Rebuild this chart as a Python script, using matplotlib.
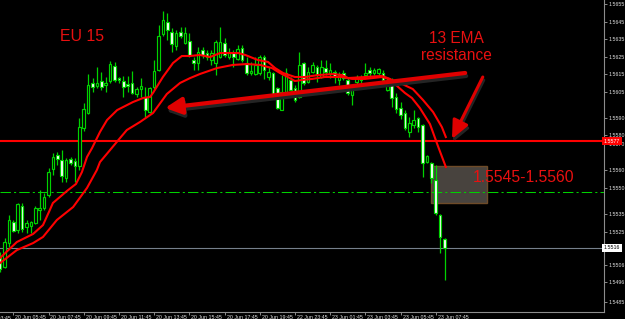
import matplotlib
matplotlib.use("Agg")
import matplotlib.pyplot as plt
from matplotlib.patches import Rectangle
import matplotlib.transforms as mtransforms

# ---------------- data (EURUSD M15) ----------------
bar_index = list(range(-3, 99))
opens = [1.55110, 1.55047, 1.55184, 1.55304, 1.55259, 1.55396, 1.55276, 1.55282, 1.55299, 1.55373,
         1.55384, 1.55459, 1.55607, 1.55687, 1.55659, 1.55556, 1.55664, 1.55653, 1.55624, 1.55842,
         1.55927, 1.56099, 1.56082, 1.56110, 1.56087, 1.56110, 1.56196, 1.56127, 1.56110, 1.56093,
         1.56099, 1.56036, 1.56064, 1.56019, 1.55933, 1.56076, 1.56173, 1.56379, 1.56447, 1.56390,
         1.56310, 1.56390, 1.56327, 1.56339, 1.56230, 1.56213, 1.56287, 1.56270, 1.56230, 1.56213,
         1.56247, 1.56327, 1.56247, 1.56270, 1.56236, 1.56299, 1.56213, 1.56156, 1.56150, 1.56156,
         1.56247, 1.56133, 1.56156, 1.56070, 1.55944, 1.56047, 1.56116, 1.56070, 1.56019, 1.56213,
         1.56104, 1.56162, 1.56190, 1.56133, 1.56184, 1.56150, 1.56162, 1.56116, 1.56156, 1.56116,
         1.56030, 1.56104, 1.56133, 1.56144, 1.56173, 1.56156, 1.56156, 1.56156, 1.56059, 1.56087,
         1.56019, 1.55956, 1.55927, 1.55819, 1.55859, 1.55899, 1.55859, 1.55647, 1.55642, 1.55544,
         1.55344, 1.55207]
highs = [1.55133, 1.55213, 1.55344, 1.55316, 1.55413, 1.55413, 1.55316, 1.55310, 1.55396, 1.55487,
         1.55470, 1.55613, 1.55699, 1.55704, 1.55716, 1.55670, 1.55676, 1.55670, 1.55899, 1.55984,
         1.56150, 1.56127, 1.56190, 1.56162, 1.56133, 1.56224, 1.56219, 1.56133, 1.56139, 1.56139,
         1.56167, 1.56076, 1.56127, 1.56076, 1.56076, 1.56230, 1.56430, 1.56510, 1.56499, 1.56413,
         1.56402, 1.56419, 1.56419, 1.56384, 1.56247, 1.56304, 1.56304, 1.56287, 1.56287, 1.56344,
         1.56419, 1.56356, 1.56299, 1.56287, 1.56316, 1.56316, 1.56247, 1.56219, 1.56247, 1.56259,
         1.56259, 1.56190, 1.56162, 1.56076, 1.56144, 1.56184, 1.56133, 1.56087, 1.56276, 1.56219,
         1.56190, 1.56219, 1.56202, 1.56230, 1.56230, 1.56213, 1.56173, 1.56162, 1.56173, 1.56127,
         1.56087, 1.56144, 1.56144, 1.56213, 1.56190, 1.56184, 1.56184, 1.56173, 1.56133, 1.56127,
         1.56042, 1.55990, 1.55944, 1.55904, 1.55944, 1.55904, 1.55864, 1.55687, 1.55647, 1.55630,
         1.55350, 1.55213]
lows = [1.55019, 1.55042, 1.55162, 1.55247, 1.55242, 1.55247, 1.55242, 1.55242, 1.55293, 1.55316,
        1.55373, 1.55447, 1.55573, 1.55630, 1.55533, 1.55533, 1.55630, 1.55533, 1.55602, 1.55824,
        1.55922, 1.56047, 1.56070, 1.56059, 1.56047, 1.56099, 1.56104, 1.56099, 1.56019, 1.56047,
        1.56036, 1.56019, 1.56019, 1.55904, 1.55927, 1.56064, 1.56167, 1.56367, 1.56344, 1.56276,
        1.56287, 1.56356, 1.56322, 1.56247, 1.56173, 1.56173, 1.56242, 1.56230, 1.56202, 1.56144,
        1.56242, 1.56247, 1.56236, 1.56190, 1.56230, 1.56219, 1.56144, 1.56144, 1.56144, 1.56144,
        1.56122, 1.56116, 1.56013, 1.55950, 1.55944, 1.56042, 1.56047, 1.55990, 1.56013, 1.56087,
        1.56099, 1.56156, 1.56104, 1.56127, 1.56144, 1.56127, 1.56099, 1.56087, 1.56116, 1.56030,
        1.55973, 1.56076, 1.56099, 1.56127, 1.56127, 1.56144, 1.56144, 1.56087, 1.56053, 1.55962,
        1.55927, 1.55893, 1.55830, 1.55790, 1.55842, 1.55819, 1.55562, 1.55642, 1.55527, 1.55344,
        1.55127, 1.54973]
closes = [1.55036, 1.55190, 1.55316, 1.55253, 1.55407, 1.55264, 1.55299, 1.55304, 1.55384, 1.55384,
          1.55447, 1.55590, 1.55676, 1.55664, 1.55567, 1.55659, 1.55642, 1.55624, 1.55847, 1.55950,
          1.56087, 1.56076, 1.56099, 1.56076, 1.56099, 1.56207, 1.56116, 1.56116, 1.56076, 1.56082,
          1.56042, 1.56064, 1.56082, 1.55944, 1.56070, 1.56167, 1.56367, 1.56459, 1.56402, 1.56322,
          1.56384, 1.56367, 1.56384, 1.56259, 1.56213, 1.56276, 1.56259, 1.56247, 1.56270, 1.56333,
          1.56333, 1.56259, 1.56276, 1.56247, 1.56293, 1.56230, 1.56156, 1.56167, 1.56202, 1.56247,
          1.56173, 1.56162, 1.56019, 1.55956, 1.56047, 1.56156, 1.56059, 1.56002, 1.56202, 1.56099,
          1.56162, 1.56202, 1.56144, 1.56190, 1.56162, 1.56173, 1.56133, 1.56144, 1.56127, 1.56042,
          1.56076, 1.56133, 1.56116, 1.56156, 1.56156, 1.56173, 1.56179, 1.56116, 1.56087, 1.56013,
          1.55950, 1.55916, 1.55842, 1.55870, 1.55887, 1.55847, 1.55642, 1.55682, 1.55556, 1.55356,
          1.55219, 1.55156]

ema_fast_x = [-3, 0.8, 4.5, 6.75, 8.3, 9, 12.2, 14.25, 15.6, 16.75, 17.9, 19.7, 21.3, 23.6, 27.2,
              29.5, 31.1, 31.75, 34, 36.3, 38.3, 40.2, 42.4, 44.7, 47, 49.25, 51.1, 52.7, 55.6, 57.9,
              59.5, 61.3, 64, 66.3, 69.25, 72.7, 74.7, 76.1, 79.9, 83.8, 85.6, 87.2, 89, 90.6, 92.4,
              94.7, 96.5, 98.3]
ema_fast = [1.55099, 1.55190, 1.55236, 1.55287, 1.55373, 1.55413, 1.55482, 1.55522, 1.55590, 1.55676,
            1.55727, 1.55819, 1.55887, 1.55944, 1.55990, 1.56013, 1.56019, 1.56042, 1.56133, 1.56213,
            1.56253, 1.56253, 1.56259, 1.56247, 1.56270, 1.56270, 1.56270, 1.56259, 1.56230, 1.56219,
            1.56184, 1.56156, 1.56133, 1.56133, 1.56144, 1.56150, 1.56144, 1.56127, 1.56133, 1.56139,
            1.56122, 1.56082, 1.56042, 1.56013, 1.55956, 1.55864, 1.55739, 1.55619]
ema_slow_x = [-3, 0.8, 4.5, 6.75, 9.9, 13.6, 16.75, 19.0, 19.7, 22, 24.25, 25.8, 28.8, 31.75, 34.9,
              37.9, 40.2, 42.4, 46.3, 49.9, 53.1, 56.1, 58.8, 60.6, 62.4, 64, 65.6, 67.9, 70.8, 74.7,
              77, 79.9, 83.8, 86.1, 87.9, 90.8, 93.1, 95.4, 97.4, 98.3]
ema_slow = [1.55070, 1.55144, 1.55184, 1.55219, 1.55316, 1.55390, 1.55499, 1.55602, 1.55647, 1.55716,
            1.55784, 1.55830, 1.55876, 1.55927, 1.56036, 1.56099, 1.56127, 1.56150, 1.56184, 1.56202,
            1.56207, 1.56202, 1.56184, 1.56156, 1.56133, 1.56110, 1.56116, 1.56122, 1.56133, 1.56133,
            1.56122, 1.56122, 1.56133, 1.56116, 1.56099, 1.56064, 1.56002, 1.55933, 1.55847, 1.55790]

resistance_level = 1.55767
resistance_label = "1.5577"
dashed_level = 1.55476
bid_price = 1.55156
bid_label = "1.5516"
zone_low = 1.55415
zone_high = 1.55624
zone_text = "1.5545-1.5560"

y_tick_values = [1.5655, 1.5645, 1.5635, 1.5625, 1.5615, 1.5605, 1.5590, 1.5580, 1.5575,
                 1.5560, 1.5550, 1.5535, 1.5525, 1.5506, 1.5496, 1.5485]
y_tick_labels = ["1.5655", "1.5645", "1.5635", "1.5625", "1.5615", "1.5605", "1.5590", "1.5580",
                 "1.5570", "1.5560", "1.5550", "1.5535", "1.5525", "1.5506", "1.5496", "1.5485"]
x_tick_bars = [-8, 0, 8, 16, 24, 32, 40, 48, 56, 64, 72, 80, 88, 96]
x_tick_labels = ["20 Jun 03:45", "20 Jun 05:45", "20 Jun 07:45", "20 Jun 09:45", "20 Jun 11:45",
                 "20 Jun 13:45", "20 Jun 15:45", "20 Jun 17:45", "20 Jun 19:45", "22 Jun 23:45",
                 "23 Jun 01:45", "23 Jun 03:45", "23 Jun 05:45", "23 Jun 07:45"]

# ---------------- style ----------------
GREEN = "#00d200"
RED = "#ff0000"
TXT_RED = "#e81010"
AXIS = "#8c8c8c"
LBL = "#e0e0e0"
W, H = 625, 319
PX_PER_BAR = 4.4
PX_PER_PRICE = 17500.0

fig = plt.figure(figsize=(W / 100, H / 100), dpi=100, facecolor="black")
ax = fig.add_axes([0, 7 / H, 604 / W, 312 / H])
ax.set_facecolor("black")
x0 = -13.3 / PX_PER_BAR
ax.set_xlim(x0, x0 + 604 / PX_PER_BAR)
ax.set_ylim(1.56573 - 312 / PX_PER_PRICE, 1.56573)

# zone rectangle (background object)
ax.add_patch(Rectangle((94.9, zone_low), 12.7, zone_high - zone_low,
                       facecolor="#48433e", edgecolor="#6e4b28", lw=1.0, zorder=1))

# horizontal lines
ax.axhline(resistance_level, color=RED, lw=1.5, zorder=2)
ax.axhline(dashed_level, color=GREEN, lw=0.75, linestyle=(0, (10, 3, 2, 3)), zorder=2)
ax.axhline(bid_price, color="#76808c", lw=0.8, zorder=2)

# candles
body_w = 0.6
for k, o, h, l, c in zip(bar_index, opens, highs, lows, closes):
    ax.vlines(k, l, h, color=GREEN, lw=0.9, zorder=3)
    lo, hi = min(o, c), max(o, c)
    if hi - lo < 0.00003:
        ax.hlines((o + c) / 2, k - body_w / 2, k + body_w / 2, color=GREEN, lw=1.1, zorder=4)
    else:
        ax.add_patch(Rectangle((k - body_w / 2, lo), body_w, hi - lo,
                               facecolor=("white" if c < o else "black"),
                               edgecolor=GREEN, lw=0.85, zorder=4))

# EMAs
ax.plot(ema_slow_x, ema_slow, color=RED, lw=1.5, zorder=5, solid_joinstyle="round")
ax.plot(ema_fast_x, ema_fast, color=RED, lw=1.5, zorder=5, solid_joinstyle="round")


# arrows with shadow
def draw_arrow(tail, tip, lw, hl, hw):
    dx, dy = 1.0 / PX_PER_BAR, -3.0 / PX_PER_PRICE
    for ox, oy, col, z in [(dx, dy, "#242424", 6), (0, 0, "#e00000", 7)]:
        ax.annotate("", xy=(tip[0] + ox, tip[1] + oy), xytext=(tail[0] + ox, tail[1] + oy),
                    arrowprops=dict(arrowstyle=f"-|>,head_length={hl},head_width={hw}",
                                    color=col, lw=lw, shrinkA=0, shrinkB=0, mutation_scale=10),
                    zorder=z, annotation_clip=False)


draw_arrow((102.7, 1.56156), (34.5, 1.55956), 3.0, 1.0, 0.5)
draw_arrow((106.7, 1.56133), (99.7, 1.55779), 2.2, 1.1, 0.5)

# annotations
ax.text(60 / 604, 1 - 40.7 / 312, "EU 15", transform=ax.transAxes, color=TXT_RED,
        fontsize=11.4, family="Liberation Sans", ha="left", va="baseline", zorder=8)
ax.text(456.6 / 604, 1 - 42.7 / 312, "13 EMA", transform=ax.transAxes, color=TXT_RED,
        fontsize=11.2, family="Liberation Sans", ha="center", va="baseline", zorder=8)
ax.text(456.6 / 604, 1 - 60 / 312, "resistance", transform=ax.transAxes, color=TXT_RED,
        fontsize=11.2, family="Liberation Sans", ha="center", va="baseline", zorder=8)
zt = ax.text(473 / 604, 1 - 181.7 / 312, zone_text, transform=ax.transAxes, color=TXT_RED,
             fontsize=12, family="Liberation Sans", ha="left", va="baseline", zorder=8)

# axes styling
for s in ["left", "top"]:
    ax.spines[s].set_visible(False)
for s in ["right", "bottom"]:
    ax.spines[s].set_color(AXIS)
    ax.spines[s].set_linewidth(0.8)
ax.yaxis.tick_right()
ax.set_yticks(y_tick_values)
ax.set_yticklabels(y_tick_labels)
ax.tick_params(axis="y", direction="out", length=2, width=0.7, color=AXIS, labelcolor=LBL,
               labelsize=3.8, pad=1.5)
ax.set_xticks(x_tick_bars[1:])
ax.set_xticklabels(x_tick_labels[1:])
ax.tick_params(axis="x", direction="out", length=2, width=0.7, color=AXIS, labelcolor=LBL,
               labelsize=3.8, pad=0.2)
off = mtransforms.ScaledTranslation(2 / 100, 0, fig.dpi_scale_trans)
for lab in ax.get_xticklabels():
    lab.set_ha("left")
    lab.set_family("Liberation Sans")
    lab.set_transform(lab.get_transform() + off)
for lab in ax.get_yticklabels():
    lab.set_family("Liberation Sans")
# first (partly hidden) time label left of the chart
xblend = mtransforms.blended_transform_factory(ax.transData, ax.transAxes)
ax.text(x_tick_bars[0], 0, x_tick_labels[0], transform=xblend + mtransforms.ScaledTranslation(
        2 / 100, -4.5 / 100, fig.dpi_scale_trans), color=LBL, fontsize=3.8,
        family="Liberation Sans", ha="left", va="top", clip_on=False)

# price labels on the axis
yblend = mtransforms.blended_transform_factory(ax.transAxes, ax.transData)
ax.text(1.0, resistance_level, resistance_label, transform=yblend, color="white", fontsize=3.8,
        family="Liberation Sans", ha="left", va="center", zorder=10, clip_on=False,
        bbox=dict(boxstyle="square,pad=0.35", fc=RED, ec=RED, lw=0))
ax.text(1.0, bid_price, bid_label, transform=yblend, color="black", fontsize=3.8,
        family="Liberation Sans", ha="left", va="center", zorder=10, clip_on=False,
        bbox=dict(boxstyle="square,pad=0.35", fc="white", ec="white", lw=0))

# fit the zone caption to the width it has in the chart (about 101 px)
fig.canvas.draw()
bb = zt.get_window_extent()
zt.set_fontsize(12 * 101.0 / bb.width)

fig.savefig("out.png", dpi=100, facecolor="black")
